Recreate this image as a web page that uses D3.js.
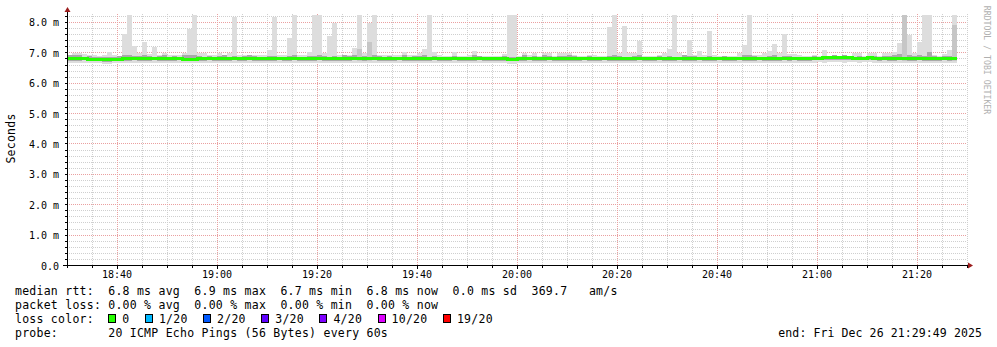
<!DOCTYPE html>
<html>
<head>
<meta charset="utf-8">
<script src="https://cdn.jsdelivr.net/npm/d3@7"></script>
<style>
body { margin: 0; background: #fff; }
svg text { font-family: "DejaVu Sans Mono", monospace; }
</style>
</head>
<body>
<svg id="chart" width="997" height="347"></svg>
<script>
// one sample per minute, 18:30 .. 21:27
const startTime = new Date(2025, 11, 26, 18, 30, 0);
const endTime = new Date(2025, 11, 26, 21, 30, 0);
const stepMinutes = 1;

// median rtt in ms
const median = [
  6.80,6.80,6.79,6.79,6.78,6.77,6.77,6.76,6.76,6.77,
  6.78,6.79,6.80,6.80,6.80,6.80,6.79,6.80,6.80,6.79,
  6.79,6.79,6.79,6.78,6.78,6.78,6.79,6.80,6.80,6.80,
  6.80,6.80,6.79,6.79,6.79,6.80,6.80,6.81,6.81,6.80,
  6.80,6.79,6.80,6.81,6.81,6.80,6.80,6.79,6.79,6.80,
  6.80,6.80,6.81,6.81,6.79,6.79,6.80,6.80,6.79,6.80,
  6.80,6.80,6.79,6.80,6.80,6.80,6.81,6.80,6.80,6.80,
  6.80,6.80,6.80,6.80,6.79,6.79,6.79,6.80,6.80,6.79,
  6.80,6.81,6.80,6.79,6.80,6.80,6.80,6.79,6.77,6.77,
  6.79,6.80,6.80,6.80,6.80,6.79,6.80,6.80,6.80,6.80,
  6.80,6.80,6.80,6.80,6.79,6.80,6.80,6.80,6.80,6.80,
  6.80,6.80,6.80,6.80,6.80,6.80,6.79,6.80,6.80,6.80,
  6.80,6.81,6.80,6.80,6.79,6.80,6.80,6.80,6.80,6.80,
  6.80,6.79,6.80,6.80,6.80,6.80,6.80,6.80,6.80,6.79,
  6.80,6.80,6.80,6.80,6.80,6.80,6.80,6.80,6.80,6.81,
  6.81,6.82,6.82,6.82,6.82,6.82,6.82,6.81,6.81,6.81,
  6.82,6.81,6.80,6.80,6.80,6.80,6.81,6.81,6.80,6.80,
  6.80,6.80,6.80,6.80,6.79,6.79,6.80,6.80
];

// slowest ping of each round (top of the smoke)
const maxRtt = [
  6.92,6.97,6.97,6.95,6.90,6.90,6.88,6.90,7.00,6.90,
  6.88,7.60,8.30,7.21,6.97,7.34,6.95,7.19,6.92,6.97,
  6.92,6.90,6.92,6.97,7.77,8.30,6.97,6.97,6.92,6.90,
  6.97,6.92,6.97,8.17,6.92,6.92,6.90,6.90,6.90,6.90,
  7.08,8.17,6.90,6.90,7.47,8.30,6.90,6.90,7.01,8.30,
  8.30,6.97,7.54,7.98,6.90,6.90,6.90,7.14,8.30,6.97,
  7.98,8.30,6.92,6.90,6.90,6.90,6.90,7.01,6.90,6.90,
  6.97,7.11,8.30,7.00,6.90,6.87,6.87,7.00,6.87,6.87,
  6.90,7.04,6.87,6.87,6.87,6.87,6.87,6.93,8.30,8.30,
  6.87,6.97,6.90,6.97,6.87,6.97,6.97,6.87,6.97,6.97,
  6.97,6.90,6.87,6.87,6.90,6.90,6.87,6.87,7.85,8.30,
  6.97,7.87,6.97,6.97,7.37,6.87,6.87,6.87,6.90,6.97,
  7.11,8.30,6.97,6.90,7.40,6.90,7.04,6.90,7.70,6.90,
  6.87,6.87,6.87,6.87,6.97,7.24,8.30,6.90,6.90,6.97,
  7.04,7.27,6.97,7.60,6.93,6.93,6.90,6.87,6.87,6.90,
  6.87,7.08,6.87,6.87,6.87,6.87,6.87,6.97,6.97,6.87,
  6.97,6.97,6.87,6.97,6.97,7.00,7.30,8.30,7.57,6.97,
  7.34,8.30,8.30,6.90,6.87,6.93,7.08,8.30
];

// fastest ping of each round (bottom of the smoke)
const minRtt = [
  6.66,6.65,6.65,6.66,6.65,6.64,6.64,6.63,6.63,6.64,
  6.65,6.66,6.65,6.66,6.65,6.64,6.65,6.66,6.65,6.64,
  6.66,6.65,6.66,6.64,6.65,6.64,6.65,6.66,6.66,6.65,
  6.64,6.65,6.66,6.65,6.64,6.65,6.66,6.65,6.64,6.65,
  6.65,6.64,6.66,6.65,6.65,6.66,6.65,6.64,6.65,6.65,
  6.66,6.65,6.64,6.65,6.66,6.65,6.64,6.65,6.66,6.65,
  6.65,6.66,6.65,6.64,6.66,6.65,6.65,6.64,6.66,6.65,
  6.65,6.64,6.65,6.66,6.64,6.64,6.65,6.66,6.65,6.64,
  6.65,6.64,6.66,6.65,6.65,6.64,6.64,6.65,6.63,6.63,
  6.65,6.64,6.66,6.65,6.64,6.65,6.66,6.65,6.64,6.66,
  6.65,6.64,6.65,6.66,6.65,6.64,6.65,6.66,6.64,6.65,
  6.66,6.65,6.64,6.65,6.66,6.65,6.64,6.65,6.66,6.65,
  6.64,6.65,6.66,6.65,6.64,6.65,6.66,6.65,6.64,6.65,
  6.66,6.65,6.64,6.65,6.66,6.65,6.64,6.65,6.66,6.65,
  6.65,6.64,6.65,6.66,6.65,6.66,6.65,6.64,6.65,6.66,
  6.67,6.66,6.67,6.68,6.67,6.66,6.67,6.68,6.66,6.67,
  6.67,6.66,6.65,6.66,6.65,6.64,6.66,6.65,6.64,6.65,
  6.66,6.65,6.64,6.66,6.65,6.66,6.65,6.64
];

// upper and lower edge of the denser inner smoke
const upperQ = [
  6.90,6.92,6.90,6.86,6.88,6.86,6.86,6.84,6.84,6.86,
  6.88,6.90,6.90,6.88,6.88,6.90,6.88,6.86,6.88,6.92,
  6.86,6.88,6.86,6.90,6.92,6.90,6.88,6.86,6.88,6.86,
  6.88,6.90,6.86,6.88,6.86,6.88,6.90,6.88,6.86,6.86,
  6.88,6.88,6.86,6.86,6.88,6.90,6.86,6.86,6.88,6.88,
  6.90,6.88,6.86,6.88,6.86,6.90,6.88,6.92,7.12,6.88,
  7.33,6.90,6.88,6.86,6.88,6.86,6.86,6.90,6.86,6.88,
  6.88,6.90,6.86,6.88,6.86,6.86,6.86,6.88,6.86,6.86,
  6.86,6.90,6.88,6.86,6.86,6.86,6.86,6.88,6.86,6.86,
  6.86,6.90,6.86,6.88,6.86,6.90,6.88,6.86,6.88,6.88,
  6.90,6.88,6.86,6.86,6.88,6.86,6.86,6.86,6.88,6.90,
  6.88,6.86,6.86,6.88,6.90,6.86,6.86,6.86,6.88,6.86,
  6.88,6.86,6.86,6.90,6.88,6.88,6.86,6.86,6.88,6.86,
  6.86,6.88,6.86,6.86,6.86,6.90,6.92,6.88,6.86,6.86,
  6.88,6.90,6.86,6.88,6.88,6.86,6.86,6.86,6.86,6.88,
  6.86,6.88,6.88,6.90,6.88,6.90,6.88,6.86,6.88,6.86,
  6.88,6.88,6.86,6.88,6.88,6.90,6.95,8.30,6.92,6.88,
  6.90,6.88,7.00,6.88,6.86,6.88,6.88,7.90
];
const lowerQ = [
  6.72,6.71,6.72,6.74,6.72,6.70,6.70,6.69,6.69,6.71,
  6.72,6.73,6.72,6.74,6.72,6.71,6.72,6.74,6.72,6.71,
  6.73,6.72,6.74,6.71,6.72,6.71,6.72,6.73,6.74,6.72,
  6.71,6.73,6.72,6.74,6.72,6.73,6.74,6.72,6.71,6.73,
  6.72,6.71,6.74,6.72,6.73,6.74,6.72,6.71,6.72,6.73,
  6.74,6.72,6.71,6.73,6.72,6.71,6.72,6.74,6.71,6.72,
  6.73,6.74,6.72,6.71,6.73,6.72,6.74,6.72,6.73,6.72,
  6.72,6.71,6.73,6.74,6.71,6.72,6.72,6.74,6.73,6.71,
  6.72,6.73,6.74,6.72,6.72,6.71,6.72,6.73,6.70,6.70,
  6.72,6.71,6.74,6.72,6.71,6.73,6.74,6.72,6.71,6.73,
  6.72,6.71,6.73,6.74,6.72,6.71,6.73,6.74,6.71,6.72,
  6.73,6.72,6.71,6.73,6.74,6.72,6.71,6.73,6.74,6.72,
  6.71,6.72,6.74,6.73,6.71,6.72,6.74,6.72,6.71,6.73,
  6.74,6.72,6.71,6.72,6.74,6.73,6.71,6.72,6.74,6.72,
  6.72,6.71,6.73,6.74,6.72,6.74,6.72,6.71,6.73,6.74,
  6.74,6.75,6.74,6.76,6.75,6.74,6.75,6.76,6.74,6.75,
  6.75,6.74,6.72,6.74,6.73,6.72,6.74,6.72,6.71,6.73,
  6.74,6.72,6.71,6.73,6.72,6.74,6.73,6.71
];

const yMax = 8.23;
const yLabels = [0, 1, 2, 3, 4, 5, 6, 7, 8];

const lossLabels = ["0", "1/20", "2/20", "3/20", "4/20", "10/20", "19/20"];
const lossColors = ["#26ff00", "#00b8ff", "#0059ff", "#5e00ff", "#7e00ff", "#dd00ff", "#ff0000"];

const legendLines = [
  "median rtt:  6.8 ms avg  6.9 ms max  6.7 ms min  6.8 ms now  0.0 ms sd  369.7   am/s",
  "packet loss: 0.00 % avg  0.00 % max  0.00 % min  0.00 % now",
  "loss color:",
  "probe:       20 ICMP Echo Pings (56 Bytes) every 60s"
];
const endLabel = "end: Fri Dec 26 21:29:49 2025";

// ---------------------------------------------------------------

const svg = d3.select("#chart");
const plotLeft = 67, plotRight = 967, plotTop = 15, plotBottom = 265;

const x = d3.scaleTime().domain([startTime, endTime]).range([plotLeft, plotRight]);
const y = d3.scaleLinear().domain([0, yMax]).range([plotBottom, plotTop]);

const times = median.map((d, i) => d3.timeMinute.offset(startTime, i * stepMinutes));
const rounds = times.map((t, i) => ({
  t0: t,
  t1: d3.timeMinute.offset(t, stepMinutes),
  med: median[i],
  max: maxRtt[i],
  min: minRtt[i],
  up: upperQ[i],
  lo: lowerQ[i]
}));

svg.append("defs").append("clipPath").attr("id", "plot")
  .append("rect")
    .attr("x", plotLeft).attr("y", plotTop)
    .attr("width", plotRight - plotLeft).attr("height", plotBottom - plotTop);

// grid
const grid = svg.append("g").attr("shape-rendering", "crispEdges");

const minorY = d3.ticks(0, 8.2, 41).filter(v => Math.abs(v - Math.round(v)) > 1e-6);
grid.selectAll("line.hmin")
  .data(minorY)
  .enter()
  .append("line")
    .attr("x1", plotLeft).attr("x2", plotRight)
    .attr("y1", d => Math.round(y(d)) + 0.5)
    .attr("y2", d => Math.round(y(d)) + 0.5)
    .attr("stroke", "#cfcfcf")
    .attr("stroke-dasharray", "1,1");

const minorX = x.ticks(d3.timeMinute.every(5)).filter(d => d.getMinutes() % 20 !== 0);
grid.selectAll("line.vmin")
  .data(minorX)
  .enter()
  .append("line")
    .attr("x1", d => Math.round(x(d)) + 0.5)
    .attr("x2", d => Math.round(x(d)) + 0.5)
    .attr("y1", plotTop - 1).attr("y2", plotBottom)
    .attr("stroke", "#cfcfcf")
    .attr("stroke-dasharray", "1,1");

grid.selectAll("line.hmaj")
  .data(yLabels.filter(v => v > 0))
  .enter()
  .append("line")
    .attr("x1", plotLeft).attr("x2", plotRight)
    .attr("y1", d => Math.round(y(d)) + 0.5)
    .attr("y2", d => Math.round(y(d)) + 0.5)
    .attr("stroke", "#eaa0a0")
    .attr("stroke-dasharray", "1,1");

const majorX = x.ticks(d3.timeMinute.every(20));
grid.selectAll("line.vmaj")
  .data(majorX)
  .enter()
  .append("line")
    .attr("x1", d => Math.round(x(d)) + 0.5)
    .attr("x2", d => Math.round(x(d)) + 0.5)
    .attr("y1", plotTop - 1).attr("y2", plotBottom)
    .attr("stroke", "#eaa0a0")
    .attr("stroke-dasharray", "1,1");

// smoke
const smoke = svg.append("g")
  .attr("clip-path", "url(#plot)")
  .attr("shape-rendering", "crispEdges");

smoke.selectAll("rect.outer")
  .data(rounds)
  .enter()
  .append("rect")
    .attr("x", d => x(d.t0))
    .attr("width", d => x(d.t1) - x(d.t0))
    .attr("y", d => y(d.max))
    .attr("height", d => y(d.min) - y(d.max))
    .attr("fill", "#dddddd");

smoke.selectAll("rect.inner")
  .data(rounds)
  .enter()
  .append("rect")
    .attr("x", d => x(d.t0))
    .attr("width", d => x(d.t1) - x(d.t0))
    .attr("y", d => y(d.up))
    .attr("height", d => y(d.lo) - y(d.up))
    .attr("fill", d => d.up > 7 ? "#c6c6c6" : "#a9a9a9");

// median, coloured by loss (all rounds had 0 loss)
const medLine = d3.line()
  .x(d => x(d[0]))
  .y(d => y(d[1]))
  .curve(d3.curveStepAfter);

const medPoints = rounds.map(d => [d.t0, d.med]);
medPoints.push([rounds[rounds.length - 1].t1, rounds[rounds.length - 1].med]);

svg.append("path")
  .datum(medPoints)
  .attr("d", medLine)
  .attr("fill", "none")
  .attr("stroke", lossColors[0])
  .attr("stroke-width", 3)
  .attr("shape-rendering", "crispEdges");

// axes
const axes = svg.append("g").attr("shape-rendering", "crispEdges");

axes.append("line")
  .attr("x1", plotLeft - 4).attr("x2", plotRight + 2)
  .attr("y1", plotBottom + 0.5).attr("y2", plotBottom + 0.5)
  .attr("stroke", "#000");

axes.append("line")
  .attr("x1", plotLeft + 0.5).attr("x2", plotLeft + 0.5)
  .attr("y1", plotBottom + 3).attr("y2", plotTop - 4)
  .attr("stroke", "#000");

axes.selectAll("line.xt")
  .data(x.ticks(d3.timeMinute.every(5)))
  .enter()
  .append("line")
    .attr("x1", d => Math.round(x(d)) + 0.5)
    .attr("x2", d => Math.round(x(d)) + 0.5)
    .attr("y1", plotBottom + 1)
    .attr("y2", d => d.getMinutes() % 20 === 0 ? plotBottom + 4 : plotBottom + 3)
    .attr("stroke", "#000");

axes.selectAll("line.yt")
  .data(d3.ticks(0, 8.2, 41))
  .enter()
  .append("line")
    .attr("x1", plotLeft - 2).attr("x2", plotLeft)
    .attr("y1", d => Math.round(y(d)) + 0.5)
    .attr("y2", d => Math.round(y(d)) + 0.5)
    .attr("stroke", "#000");

svg.append("path")
  .attr("d", `M${plotRight + 1},${plotBottom - 2.5}L${plotRight + 6},${plotBottom + 0.5}L${plotRight + 1},${plotBottom + 3.5}Z`)
  .attr("fill", "#9b1c1c");
svg.append("path")
  .attr("d", `M${plotLeft - 2.5},${plotTop - 3}L${plotLeft + 0.5},${plotTop - 8}L${plotLeft + 3.5},${plotTop - 3}Z`)
  .attr("fill", "#9b1c1c");

// tick labels
svg.selectAll("text.ylab")
  .data(yLabels)
  .enter()
  .append("text")
    .attr("x", 59)
    .attr("y", d => y(d) + 4.5)
    .attr("text-anchor", "end")
    .style("font-size", "10px")
    .text(d => d === 0 ? "0.0" : d.toFixed(1) + " m");

svg.selectAll("text.xlab")
  .data(majorX)
  .enter()
  .append("text")
    .attr("x", d => x(d))
    .attr("y", 277.5)
    .attr("text-anchor", "middle")
    .style("font-size", "10px")
    .text(d3.timeFormat("%H:%M"));

svg.append("text")
  .attr("transform", "translate(14.5,138.5) rotate(-90)")
  .attr("text-anchor", "middle")
  .style("font-size", "11.5px")
  .style("letter-spacing", "0.25px")
  .text("Seconds");

svg.append("text")
  .attr("transform", "translate(984,60) rotate(90)")
  .attr("text-anchor", "middle")
  .style("font-size", "8.2px")
  .attr("fill", "#b0b0b0")
  .text("RRDTOOL / TOBI OETIKER");

// legend
const charW = 7.17;
const legendX = 15;
svg.selectAll("text.leg")
  .data(legendLines)
  .enter()
  .append("text")
    .attr("x", legendX)
    .attr("y", (d, i) => 295 + i * 14)
    .attr("xml:space", "preserve")
    .style("white-space", "pre")
    .style("font-size", "11.5px")
    .style("letter-spacing", "0.25px")
    .text(d => d);

let bx = legendX + 13 * charW;
const lossItems = lossLabels.map((label, i) => {
  const item = { label: label, color: lossColors[i], x: bx };
  bx += 14 + label.length * charW + 15.5;
  return item;
});

svg.selectAll("rect.box")
  .data(lossItems)
  .enter()
  .append("rect")
    .attr("x", d => Math.round(d.x) + 0.5)
    .attr("y", 314.5)
    .attr("width", 7)
    .attr("height", 8)
    .attr("fill", d => d.color)
    .attr("stroke", "#000")
    .attr("shape-rendering", "crispEdges");

svg.selectAll("text.boxlab")
  .data(lossItems)
  .enter()
  .append("text")
    .attr("x", d => d.x + 14)
    .attr("y", 323)
    .style("font-size", "11.5px")
    .style("letter-spacing", "0.25px")
    .text(d => d.label);

svg.append("text")
  .attr("x", 982)
  .attr("y", 337)
  .attr("text-anchor", "end")
  .style("font-size", "11.5px")
  .style("letter-spacing", "0.1px")
  .text(endLabel);
</script>
</body>
</html>
